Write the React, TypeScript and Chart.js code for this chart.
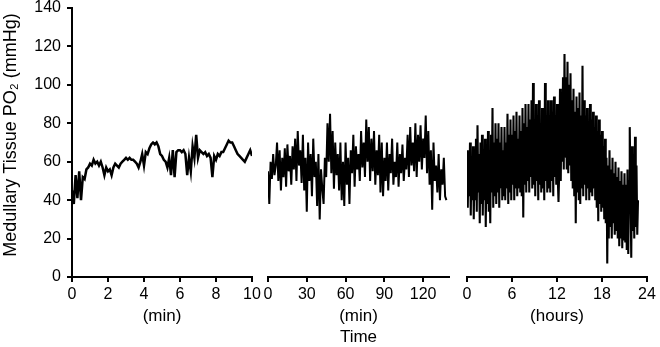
import React, { useEffect, useRef } from 'react';
import { Chart, registerables } from 'chart.js';

Chart.register(...registerables);

// ---- data ----
const Y_TICKS = [0, 20, 40, 60, 80, 100, 120, 140];
const P1_TICKS = [0, 2, 4, 6, 8, 10];
const P2_TICKS = [0, 30, 60, 90, 120];
const P3_TICKS = [0, 6, 12, 18, 24];

const P1_STEP = 0.1; // minutes between samples
const P2_STEP = 1; // minutes between samples
const P3_STEP = 0.1; // hours between samples

const P1_VALUES = [
  45, 38, 53, 41, 55, 40, 52, 51, 56, 57,
  59, 58, 61, 59, 60, 58, 60, 57, 53, 57,
  55, 56, 53, 57, 59, 58, 57, 59, 60, 61,
  62, 61, 62, 61, 61, 60, 59, 57, 60, 64,
  58, 65, 64, 67, 69, 70, 69, 70, 68, 64,
  63, 61, 60, 57, 62, 53, 66, 52, 65, 66,
  66, 65, 66, 64, 53, 62, 55, 68, 62, 74,
  62, 66, 65, 64, 65, 63, 64, 62, 52, 63,
  61, 64, 63, 65, 65, 67, 69, 71, 70, 70,
  68, 66, 64, 63, 62, 61, 60, 62, 64, 66,
  63,
];

const P2_VALUES = [
  55, 38, 60, 51, 64, 53, 58, 70, 50, 66,
  45, 62, 52, 67, 47, 69, 55, 63, 48, 68,
  56, 72, 50, 76, 58, 66, 49, 74, 45, 62,
  34, 70, 50, 64, 42, 72, 52, 60, 37, 64,
  30, 56, 46, 38, 62, 52, 80, 60, 85, 54,
  76, 46, 70, 53, 64, 45, 70, 40, 60, 37,
  70, 48, 62, 38, 66, 54, 74, 47, 68, 56,
  64, 50, 76, 57, 70, 52, 82, 60, 78, 50,
  72, 55, 76, 48, 66, 53, 74, 44, 70, 42,
  62, 50, 70, 45, 64, 54, 72, 48, 60, 52,
  70, 47, 64, 54, 69, 50, 62, 56, 74, 52,
  78, 58, 70, 55, 80, 52, 74, 60, 79, 56,
  72, 62, 84, 54, 76, 48, 66, 35, 70, 50,
  58, 44, 64, 40, 56, 48, 62, 42, 40,
];

const P3_VALUES = [
  66, 36, 60, 42, 70, 32, 62, 40, 68, 30,
  60, 40, 72, 34, 79, 44, 64, 28, 70, 38,
  74, 32, 62, 40, 72, 26, 66, 38, 76, 34,
  64, 28, 74, 44, 88, 36, 70, 42, 80, 38,
  72, 44, 80, 36, 70, 46, 78, 40, 66, 42,
  78, 40, 70, 46, 85, 38, 74, 44, 82, 40,
  74, 48, 84, 40, 76, 46, 86, 42, 72, 46,
  84, 44, 76, 42, 88, 31, 80, 48, 90, 44,
  78, 50, 90, 44, 82, 52, 92, 46, 101, 48,
  80, 42, 90, 50, 84, 40, 92, 48, 78, 44,
  88, 46, 80, 40, 101, 50, 84, 44, 92, 46,
  82, 44, 92, 50, 86, 42, 94, 52, 84, 48,
  90, 52, 39, 56, 98, 50, 92, 60, 104, 56,
  116, 62, 104, 56, 112, 54, 100, 58, 106, 50,
  92, 46, 98, 42, 86, 28, 94, 44, 88, 40,
  96, 38, 84, 46, 110, 42, 92, 48, 84, 40,
  88, 46, 80, 40, 90, 44, 82, 42, 86, 46,
  78, 40, 84, 36, 76, 29, 82, 38, 74, 34,
  76, 36, 68, 30, 72, 28, 62, 7, 58, 20,
  66, 26, 56, 20, 62, 28, 54, 22, 60, 24,
  52, 20, 57, 16, 50, 20, 55, 15, 48, 19,
  54, 18, 48, 14, 56, 12, 50, 78, 46, 10,
  68, 24, 60, 20, 73, 26, 58, 22, 40,
];

const Y_TITLE = '   Medullary Tissue PO\u2082 (mmHg)';

const FONT = "'Liberation Sans', Arial, Helvetica, sans-serif";
const BLACK = '#000000';

type PanelSpec = {
  values: number[];
  step: number;
  xMax: number;
  xTicks: number[];
  title: string | string[];
  titleBottom: number;
  titleLineHeight: number;
  padLeft: number;
  padRight: number;
  showY: boolean;
  lineWidth: number;
};

const PANELS: PanelSpec[] = [
  { values: P1_VALUES, step: P1_STEP, xMax: 10, xTicks: P1_TICKS, title: '(min)', titleBottom: 20, titleLineHeight: 1.2, padLeft: 0, padRight: 408, showY: true, lineWidth: 2.5 },
  { values: P2_VALUES, step: P2_STEP, xMax: 140, xTicks: P2_TICKS, title: ['(min)', 'Time'], titleBottom: -1, titleLineHeight: 1.25, padLeft: 268, padRight: 211, showY: false, lineWidth: 2.0 },
  { values: P3_VALUES, step: P3_STEP, xMax: 24, xTicks: P3_TICKS, title: '(hours)', titleBottom: 20, titleLineHeight: 1.2, padLeft: 467, padRight: 13, showY: false, lineWidth: 2.1 },
];

function makeConfig(p: PanelSpec): any {
  const data = p.values.map((v, i) => ({ x: +(i * p.step).toFixed(3), y: v }));
  const axisBorder = { display: true, color: BLACK, width: 2 };
  const axisGrid = { display: true, drawOnChartArea: false, drawTicks: true, tickLength: 5, color: BLACK, lineWidth: 2 };
  return {
    type: 'line',
    data: {
      datasets: [
        {
          data,
          borderColor: BLACK,
          borderWidth: p.lineWidth,
          pointRadius: 0,
          tension: 0,
          fill: false,
          borderJoinStyle: 'miter',
        },
      ],
    },
    options: {
      responsive: false,
      animation: false,
      devicePixelRatio: 1,
      events: [],
      layout: { padding: { left: p.padLeft, right: p.padRight, top: 8, bottom: 0 } },
      plugins: { legend: { display: false }, tooltip: { enabled: false }, title: { display: false } },
      scales: {
        x: {
          type: 'linear',
          min: 0,
          max: p.xMax,
          afterBuildTicks: (s: any) => {
            s.ticks = p.xTicks.map((v) => ({ value: v }));
          },
          border: axisBorder,
          grid: axisGrid,
          ticks: { color: BLACK, font: { family: FONT, size: 16 }, padding: 3, maxRotation: 0, autoSkip: false },
          title: {
            display: true,
            text: p.title,
            color: BLACK,
            font: { family: FONT, size: 17, lineHeight: p.titleLineHeight },
            padding: { top: 0, bottom: p.titleBottom },
          },
          afterFit: (s: any) => {
            s.height = 70;
            s.paddingLeft = 0;
            s.paddingRight = 0;
          },
        },
        y: {
          type: 'linear',
          display: p.showY,
          min: 0,
          max: 140,
          afterBuildTicks: (s: any) => {
            s.ticks = Y_TICKS.map((v) => ({ value: v }));
          },
          border: axisBorder,
          grid: axisGrid,
          ticks: { color: BLACK, font: { family: FONT, size: 16 }, padding: 6 },
          title: {
            display: true,
            text: Y_TITLE,
            color: BLACK,
            font: { family: FONT, size: 18, lineHeight: 1.2 },
            padding: { top: 0, bottom: 0 },
          },
          afterFit: (s: any) => {
            if (p.showY) s.width = 72;
            s.paddingTop = 0;
            s.paddingBottom = 0;
          },
        },
      },
    },
  };
}

function Panel({ spec }: { spec: PanelSpec }) {
  const ref = useRef<HTMLCanvasElement | null>(null);
  useEffect(() => {
    if (!ref.current) return;
    const chart = new Chart(ref.current, makeConfig(spec));
    return () => chart.destroy();
  }, [spec]);
  return (
    <canvas
      ref={ref}
      width={660}
      height={347}
      style={{ position: 'absolute', left: 0, top: 0, width: 660, height: 347 }}
    />
  );
}

export default function App() {
  return (
    <div style={{ position: 'fixed', left: 0, top: 0, width: 660, height: 347, background: '#ffffff' }}>
      {PANELS.map((p, i) => (
        <Panel key={i} spec={p} />
      ))}
    </div>
  );
}
